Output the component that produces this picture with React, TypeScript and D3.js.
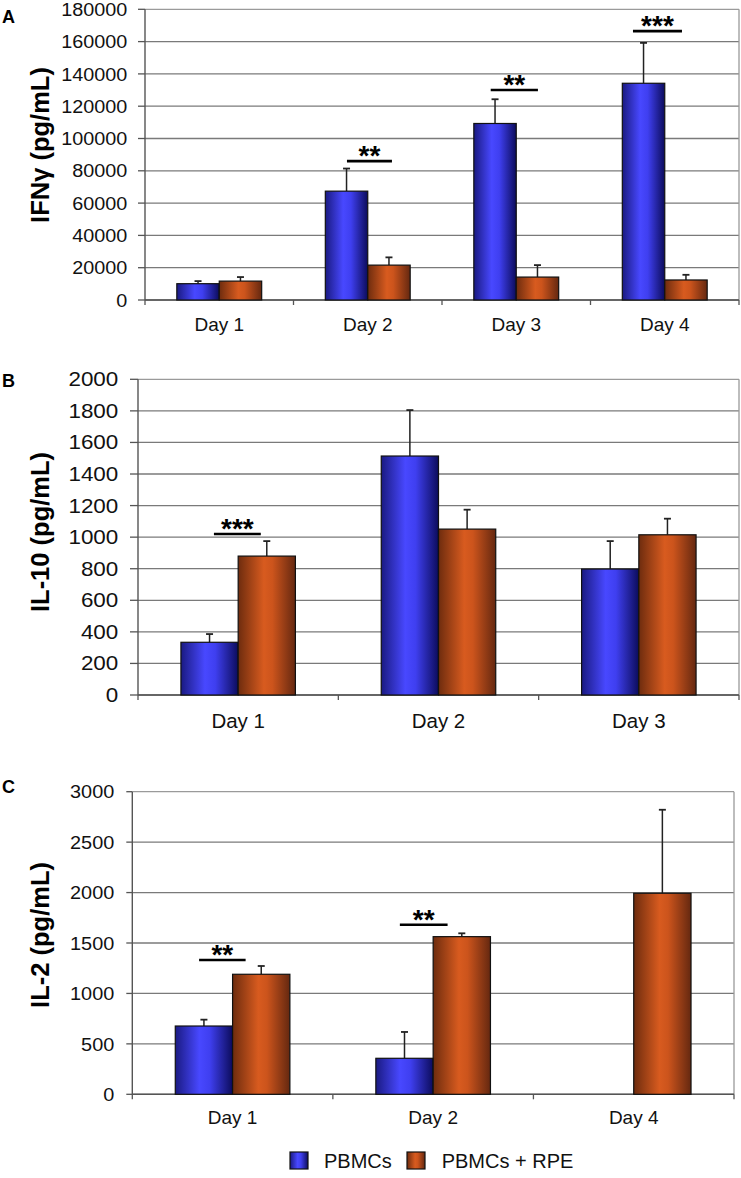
import React from "react";
import * as d3 from "d3";

// ---------- DATA ----------
const catsA = ["Day 1", "Day 2", "Day 3", "Day 4"];
const pbmcA = [10100, 67400, 109300, 134200];
const pbmcErrA = [1600, 14000, 15000, 25000];
const rpeA = [11700, 21600, 14200, 12400];
const rpeErrA = [2500, 4800, 7400, 3200];
const ticksA = [0, 20000, 40000, 60000, 80000, 100000, 120000, 140000, 160000, 180000];
const sigA = [
  { cat: "Day 2", y: 86000, from: 0.36, to: 0.663, label: "**" },
  { cat: "Day 3", y: 130000, from: 0.328, to: 0.646, label: "**" },
  { cat: "Day 4", y: 166500, from: 0.286, to: 0.616, label: "***" },
];

const catsB = ["Day 1", "Day 2", "Day 3"];
const pbmcB = [334, 1514, 798];
const pbmcErrB = [52, 291, 177];
const rpeB = [880, 1051, 1015];
const rpeErrB = [95, 123, 102];
const ticksB = [0, 200, 400, 600, 800, 1000, 1200, 1400, 1600, 1800, 2000];
const sigB = [{ cat: "Day 1", y: 1020, from: 0.379, to: 0.613, label: "***" }];

const catsC = ["Day 1", "Day 2", "Day 4"];
const pbmcC = [677, 357, 0];
const pbmcErrC = [63, 261, 0];
const rpeC = [1190, 1563, 1993];
const rpeErrC = [82, 33, 828];
const ticksC = [0, 500, 1000, 1500, 2000, 2500, 3000];
const sigC = [
  { cat: "Day 1", y: 1331, from: 0.333, to: 0.565, label: "**" },
  { cat: "Day 2", y: 1681, from: 0.334, to: 0.572, label: "**" },
];

const seriesNames = ["PBMCs", "PBMCs + RPE"];

// ---------- LAYOUT ----------
const FONT = "'Liberation Sans', Arial, Helvetica, sans-serif";

const panels = [
  {
    letter: "A", letterY: 23, title: "IFNγ  (pg/mL)", titleY: 145,
    cats: catsA, s1: pbmcA, e1: pbmcErrA, s2: rpeA, e2: rpeErrA, ticks: ticksA, sig: sigA,
    left: 145, right: 739, top: 9.3, bottom: 300,
    tickFs: 18.6, tickSx: 1.065, tickRight: 127.3, tickLen: 7,
    dayFs: 19, dayY: 330.5,
  },
  {
    letter: "B", letterY: 387, title: "IL-10 (pg/mL)", titleY: 532,
    cats: catsB, s1: pbmcB, e1: pbmcErrB, s2: rpeB, e2: rpeErrB, ticks: ticksB, sig: sigB,
    left: 138, right: 739, top: 379.3, bottom: 695,
    tickFs: 19.5, tickSx: 1.15, tickRight: 118.3, tickLen: 8,
    dayFs: 20.5, dayY: 728,
  },
  {
    letter: "C", letterY: 793, title: "IL-2 (pg/mL)", titleY: 935,
    cats: catsC, s1: pbmcC, e1: pbmcErrC, s2: rpeC, e2: rpeErrC, ticks: ticksC, sig: sigC,
    left: 132.3, right: 734, top: 791.7, bottom: 1094.3,
    tickFs: 18.6, tickSx: 1.07, tickRight: 114.3, tickLen: 6,
    dayFs: 19, dayY: 1124,
  },
];

function Panel({ p }: { p: any }) {
  const x = d3.scaleBand<string>().domain(p.cats).range([p.left, p.right]).paddingInner(0).paddingOuter(0);
  const yMax = p.ticks[p.ticks.length - 1];
  const y = d3.scaleLinear().domain([0, yMax]).range([p.bottom, p.top]);
  const bw = x.bandwidth() / 3.5; // Excel gap width 150%
  const gap = bw * 1.5;
  const series = [
    { vals: p.s1, errs: p.e1, fill: "url(#gradBlue)" },
    { vals: p.s2, errs: p.e2, fill: "url(#gradOrange)" },
  ];
  const bounds = [...p.cats.map((c: string) => x(c) as number), p.right];
  return (
    <g>
      <text x={2} y={p.letterY} fontFamily={FONT} fontWeight="bold" fontSize={18} fill="#000">{p.letter}</text>
      <text transform={`translate(49.3,${p.titleY}) rotate(-90)`} textAnchor="middle" fontFamily={FONT} fontWeight="bold" fontSize={25.5} fill="#000">{p.title}</text>
      {/* gridlines */}
      {p.ticks.map((t: number) => (
        <line key={"g" + t} x1={p.left} x2={p.right} y1={y(t)} y2={y(t)} stroke={t === yMax ? "#9a9a9a" : "#7a7a7a"} strokeWidth={1.3} />
      ))}
      <line x1={p.right} x2={p.right} y1={p.top} y2={p.bottom} stroke="#9a9a9a" strokeWidth={1.3} />
      {/* y axis */}
      <line x1={p.left} x2={p.left} y1={p.top} y2={p.bottom} stroke="#555" strokeWidth={1.4} />
      {p.ticks.map((t: number) => (
        <g key={"t" + t}>
          <line x1={p.left - p.tickLen} x2={p.left} y1={y(t)} y2={y(t)} stroke="#555" strokeWidth={1.3} />
          <text transform={`translate(${p.tickRight},${y(t) + 0.36 * p.tickFs}) scale(${p.tickSx},1)`} textAnchor="end" fontFamily={FONT} fontSize={p.tickFs} fill="#111">{t}</text>
        </g>
      ))}
      {/* x axis */}
      <line x1={p.left} x2={p.right} y1={p.bottom} y2={p.bottom} stroke="#555" strokeWidth={1.4} />
      {bounds.map((b: number, i: number) => (
        <line key={"xb" + i} x1={b} x2={b} y1={p.bottom} y2={p.bottom + 5} stroke="#555" strokeWidth={1.3} />
      ))}
      {p.cats.map((c: string) => (
        <text key={"xl" + c} x={(x(c) as number) + x.bandwidth() / 2} y={p.dayY} textAnchor="middle" fontFamily={FONT} fontSize={p.dayFs} fill="#111">{c}</text>
      ))}
      {/* bars */}
      {series.map((s, si) =>
        p.cats.map((c: string, ci: number) => {
          const v = s.vals[ci];
          if (!v) return null;
          const bx = (x(c) as number) + gap / 2 + si * bw;
          const top = y(v);
          const cx = bx + bw / 2;
          const et = y(v + s.errs[ci]);
          return (
            <g key={"b" + si + c}>
              <line x1={cx} x2={cx} y1={top} y2={et} stroke="#222" strokeWidth={1.5} />
              <line x1={cx - 3.5} x2={cx + 3.5} y1={et} y2={et} stroke="#222" strokeWidth={1.8} />
              <rect x={bx} y={top} width={bw} height={p.bottom - top} fill={s.fill} stroke="#111" strokeWidth={1.2} />
            </g>
          );
        })
      )}
      {/* significance */}
      {p.sig.map((s: any, i: number) => {
        const b0 = x(s.cat) as number;
        const x1 = b0 + s.from * x.bandwidth();
        const x2 = b0 + s.to * x.bandwidth();
        const ly = y(s.y);
        return (
          <g key={"s" + i}>
            <line x1={x1} x2={x2} y1={ly} y2={ly} stroke="#000" strokeWidth={2.6} />
            <text x={(x1 + x2) / 2} y={ly + 4} textAnchor="middle" fontFamily={FONT} fontWeight="bold" fontSize={28} fill="#000">{s.label}</text>
          </g>
        );
      })}
    </g>
  );
}

export default function App() {
  return (
    <svg width={741} height={1178} style={{ position: "absolute", left: 0, top: 0, background: "#fff" }}>
      <defs>
        <linearGradient id="gradBlue" x1="0" x2="1" y1="0" y2="0">
          <stop offset="0" stopColor="#1a1a82" />
          <stop offset="0.42" stopColor="#4848ff" />
          <stop offset="0.6" stopColor="#3f3ff0" />
          <stop offset="1" stopColor="#0c0c5c" />
        </linearGradient>
        <linearGradient id="gradOrange" x1="0" x2="1" y1="0" y2="0">
          <stop offset="0" stopColor="#6e2c0e" />
          <stop offset="0.45" stopColor="#d85b1f" />
          <stop offset="0.6" stopColor="#cc541c" />
          <stop offset="1" stopColor="#652810" />
        </linearGradient>
      </defs>
      <rect x={0} y={0} width={741} height={1178} fill="#fff" />
      {panels.map((p) => <Panel key={p.letter} p={p} />)}
      {/* legend */}
      <rect x={290} y={1152} width={18} height={17} fill="url(#gradBlue)" stroke="#111" strokeWidth={1.2} />
      <text x={324} y={1168} fontFamily={FONT} fontSize={20} fill="#111">{seriesNames[0]}</text>
      <rect x={407} y={1152} width={18} height={17} fill="url(#gradOrange)" stroke="#111" strokeWidth={1.2} />
      <text x={441.7} y={1168} fontFamily={FONT} fontSize={20} fill="#111">{seriesNames[1]}</text>
    </svg>
  );
}
